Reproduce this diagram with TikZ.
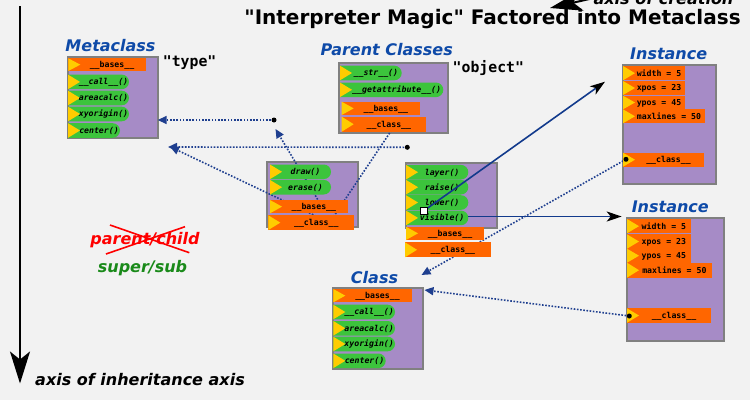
\documentclass[tikz,border=0pt]{standalone}
\usepackage{fontspec}
\setmainfont{DejaVu Sans}[Ligatures=TeXOff]
\setmonofont{DejaVu Sans Mono}
\usetikzlibrary{arrows.meta}
\definecolor{bgc}{HTML}{F2F2F2}
\definecolor{boxc}{HTML}{A68BC6}
\definecolor{borderc}{HTML}{808080}
\definecolor{orc}{HTML}{FF6600}
\definecolor{grc}{HTML}{3CC43C}
\definecolor{yec}{HTML}{FFCC00}
\definecolor{titc}{HTML}{0E4AA8}
\definecolor{linkc}{HTML}{1F3F8F}
\definecolor{solc}{HTML}{123A8C}
\definecolor{supc}{HTML}{1A8A1A}
\tikzset{
  cbox/.style={draw=borderc, fill=boxc, line width=2pt, inner sep=0pt, outer sep=0pt, anchor=north west},
  itemtext/.style={font=\ttfamily\bfseries\fontsize{8.2}{9}\selectfont, inner sep=0pt, anchor=base},
  methtext/.style={font=\ttfamily\bfseries\itshape\fontsize{8.2}{9}\selectfont, inner sep=0pt, anchor=base},
  ttl/.style={font=\bfseries\itshape\fontsize{16}{18}\selectfont, text=titc, inner sep=0pt},
  biglabel/.style={font=\bfseries\itshape\fontsize{16}{18}\selectfont, inner sep=0pt},
  quotelabel/.style={font=\ttfamily\bfseries\fontsize{14.8}{16}\selectfont, inner sep=0pt, anchor=base west},
  dotline/.style={draw=linkc, line width=1.6pt, dash pattern=on 1.6pt off 1.6pt},
  link/.style={dotline, -{Triangle[length=9pt,width=8pt]}},
  solidlink/.style={draw=solc, line width=1.6pt, -{Stealth[black,length=15pt,width=10pt,inset=4pt]}},
  axisarrow/.style={draw=black, line width=2pt, -{Stealth[length=32pt,width=20pt,inset=8pt]}},
  enddot/.style={circle, fill=black, inner sep=0pt, minimum size=5pt},
}
\newcommand\obar[6]{%
  \fill[orc] (#2,#3) rectangle (#4,#5);
  \fill[yec] (#2,#3) -- ({#2+12},{(#3+#5)/2}) -- (#2,#5) -- cycle;
  \node[itemtext] (#1) at ({(#2+10+#4)/2},{(#3+#5)/2+2.9}) {#6};}
\newcommand\gbar[5]{%
  \fill[grc] (#2,{#3-7.3}) -- ({#4-7.3},{#3-7.3}) arc[start angle=90,end angle=-90,radius=7.3pt] -- (#2,{#3+7.3}) -- cycle;
  \fill[yec] (#2,{#3-7.3}) -- ({#2+12},#3) -- (#2,{#3+7.3}) -- cycle;
  \node[methtext] (#1) at ({(#2+10+#4)/2},{#3+2.9}) {#5};}
\begin{document}
\begin{tikzpicture}[x=1pt,y=-1pt]
\fill[bgc] (0,0) rectangle (750,400);
\useasboundingbox (0,0) rectangle (750,400);

% axes
\coordinate (ax0) at (20,6);
\coordinate (ax1) at (20,383.5);
\draw[axisarrow] (ax0) -- (ax1);
\node[biglabel, anchor=base west] (axl) at (35,385.5) {axis of inheritance axis};
\coordinate (cr0) at (620,-8);
\coordinate (cr1) at (550,8);
\draw[axisarrow] (cr0) -- (cr1);
\node[biglabel, anchor=base] (crl) at (663.5,4) {axis of creation};

% title
\node[font=\bfseries\fontsize{20}{22}\selectfont, anchor=base, inner sep=0pt] (title) at (492.5,24.3) {"Interpreter Magic" Factored into Metaclass};

% group titles
\node[ttl] (tmeta) at (110.5,46) {Metaclass};
\node[ttl] (tparent) at (386.7,49.3) {Parent Classes};
\node[ttl] (tinst1) at (668.7,54) {Instance};
\node[ttl] (tinst2) at (670.3,206.7) {Instance};
\node[ttl] (tclass) at (374.5,277.3) {Class};
\node[quotelabel] (qtype) at (162.7,66.5) {"type"};
\node[quotelabel] (qobject) at (452.5,72.3) {"object"};

% parent/child, super/sub
\node[biglabel, text=red, anchor=base] (pc) at (145,244) {parent/child};
\draw[red, line width=1.6pt] (110,225) -- (189.3,252.7);
\draw[red, line width=1.6pt] (106,254) -- (185,226.7);
\node[biglabel, text=supc, anchor=base] (ss) at (142.5,272.7) {super/sub};

% boxes
\node[cbox, minimum width=90pt, minimum height=80.4pt] (meta) at (67.7,57.3) {};
\node[cbox, minimum width=108.4pt, minimum height=70pt] (parent) at (339.3,63.3) {};
\node[cbox, minimum width=90.4pt, minimum height=65pt] (midl) at (267.3,162.3) {};
\node[cbox, minimum width=90.7pt, minimum height=65.6pt] (midr) at (406,162.7) {};
\node[cbox, minimum width=90pt, minimum height=80.7pt] (cls) at (333.3,288.3) {};
\node[cbox, minimum width=93.3pt, minimum height=119.3pt] (inst1) at (622.7,65) {};
\node[cbox, minimum width=97.3pt, minimum height=123.3pt] (inst2) at (626.7,217.7) {};

% connector end points
\coordinate (d1) at (274,120);
\coordinate (d2) at (407.3,147.3);
\coordinate (d3) at (626,159.3);
\coordinate (d4) at (629.3,316);
\coordinate (t2) at (168,147);
\coordinate (t3) at (275.5,129);
\coordinate (t4) at (170,146.7);
\coordinate (s3) at (321,205);
\coordinate (s4) at (322,219);
\coordinate (s5) at (330,222);
\coordinate (e5) at (391,131);
\coordinate (t8) at (421.5,275);
\coordinate (t9) at (424.5,290);

% dotted connectors (under the bars)
\draw[link] (d1) -- (d1 -| meta.east);
\draw[link] (d2) -- (t2);
\draw[link] (s3) -- (t3);
\draw[link] (s4) -- (t4);
\draw[dotline] (s5) -- (e5);
\draw[link] (d3) -- (t8);
\draw[link] (d4) -- (t9);

% Metaclass items
\obar{mbases}{68.3}{58.3}{145.7}{71}{\_\_bases\_\_}
\gbar{mcall}{68}{81.9}{129}{\_\_call\_\_()}
\gbar{marea}{68}{98}{129}{areacalc()}
\gbar{mxy}{68}{114}{129}{xyorigin()}
\gbar{mcenter}{68}{130.5}{120}{center()}

% Parent items
\gbar{pstr}{340}{73}{401.7}{\_\_str\_\_()}
\gbar{pget}{340}{89.8}{443.3}{\_\_getattribute\_\_()}
\obar{pbases}{341.7}{101.7}{420}{115}{\_\_bases\_\_}
\obar{pclass}{341.7}{116.7}{426}{131.7}{\_\_class\_\_}

% middle left items
\gbar{ldraw}{270}{171.8}{331}{draw()}
\gbar{lerase}{270}{187.2}{331}{erase()}
\obar{lbases}{270}{200}{347.7}{213.3}{\_\_bases\_\_}
\obar{lclass}{268.3}{215.3}{354.3}{230}{\_\_class\_\_}

% middle right items
\gbar{rlayer}{406}{172.2}{468.3}{layer()}
\gbar{rraise}{406}{187.2}{468.3}{raise()}
\gbar{rlower}{406}{202.5}{468.3}{lower()}
\gbar{rvis}{406}{217.9}{468.3}{visible()}
\obar{rbases}{406}{226.7}{484}{240}{\_\_bases\_\_}
\obar{rclass}{405}{242.3}{490.7}{257.3}{\_\_class\_\_}

% Class items
\obar{cbases}{333.3}{289}{411.7}{302.3}{\_\_bases\_\_}
\gbar{ccall}{333.3}{312}{395}{\_\_call\_\_()}
\gbar{carea}{333.3}{328.3}{395}{areacalc()}
\gbar{cxy}{333.3}{344}{395}{xyorigin()}
\gbar{ccenter}{333.3}{360.8}{385.7}{center()}

% Instance 1 items
\obar{awidth}{623}{66}{685}{80.3}{width = 5}
\obar{axpos}{623}{81}{685}{95}{xpos = 23}
\obar{aypos}{623}{95.7}{685}{109.3}{ypos = 45}
\obar{amax}{623}{109.3}{705}{123.3}{maxlines = 50}
\obar{aclass}{623}{152.7}{704}{166.7}{\_\_class\_\_}

% Instance 2 items
\obar{bwidth}{627}{219}{690.7}{233.3}{width = 5}
\obar{bxpos}{627}{234.3}{690.7}{248.7}{xpos = 23}
\obar{bypos}{627}{248.7}{690.7}{262.7}{ypos = 45}
\obar{bmax}{627}{262.7}{711.7}{277.7}{maxlines = 50}
\obar{bclass}{627}{308.3}{711}{322.7}{\_\_class\_\_}

% solid connectors
\coordinate (sq0) at (423.5,211);
\coordinate (t6) at (605,81.7);
\coordinate (s7) at (468.3,216.5);
\coordinate (t7) at (621.7,216.5);
\draw[solidlink] (sq0) -- (t6);
\draw[solidlink] (s7) -- (t7);
\node[draw=black, fill=white, line width=0.6pt, minimum size=7pt, inner sep=0pt] (sq) at (sq0) {};

% dots
\node[enddot] (dot1) at (d1) {};
\node[enddot] (dot2) at (d2) {};
\node[enddot] (dot3) at (d3) {};
\node[enddot] (dot4) at (d4) {};
\end{tikzpicture}
\end{document}
